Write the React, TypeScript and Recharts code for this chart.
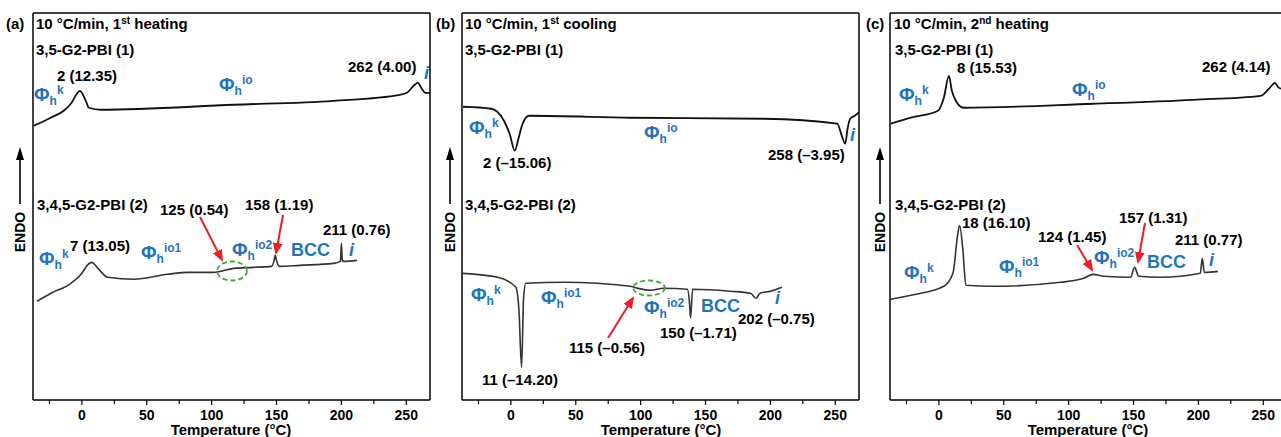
import React from "react";
import { LineChart, Line, XAxis, YAxis } from "recharts";

const FONT = '"Liberation Sans", Arial, Helvetica, sans-serif';
const BLUE = "#1F74BD";
const RED = "#EE1D23";
const GREEN = "#3BAA34";

const tempTicks = [-25, 0, 25, 50, 75, 100, 125, 150, 175, 200, 225, 250];
const tempDomain: [number, number] = [-37.7, 268.3];
const flowDomain: [number, number] = [0, 388];

// heat flow, arbitrary units (endo up)
const heat1Top_T = [-37, -24, -14, -8.5, -1.5, 3, 5.4, 14.6, 117, 194, 245, 250.5, 259, 262, 264.6, 268];
const heat1Top_Q = [275, 283, 290, 297, 310, 300, 293, 291, 296, 300, 306, 308, 318, 312, 308, 308];
const heat1Bot_T = [-34.6, -23.8, -8.5, 0, 4, 7.7, 12.3, 20, 40, 66, 81.5, 101.5, 117, 132, 146, 148, 149, 150, 152, 168, 194, 199.3, 200, 200.7, 202, 212];
const heat1Bot_Q = [99, 107, 117, 127, 135, 138, 132, 123, 121, 126, 128, 128, 132, 133, 134, 139, 145, 140, 134, 135, 137, 139, 157, 140, 139, 140];

const coolTop_T = [-37, -15, -5.4, -1, 3, 6, 9, 14, 92, 195, 251.5, 255, 257.7, 259.5, 261.5, 265, 269];
const coolTop_Q = [294, 292, 280, 267, 250, 263, 277, 285, 283, 282, 277, 265, 257, 272, 282, 285, 289];
const coolBot_T = [-37, -10, 3.8, 6.2, 8.2, 9.8, 11.5, 40.8, 92, 97.7, 107.7, 117.7, 136, 137.5, 138.5, 140, 169, 184.6, 189, 192, 200, 209];
const coolBot_Q = [127, 123, 113, 90, 33, 103, 117, 118, 114, 112, 110, 112, 111, 100, 82, 111, 109, 107, 102, 107, 109, 113];

const heat2Top_T = [-37, -21.5, -0.8, 3.8, 7.7, 10, 13, 19, 119, 196, 248, 255, 259, 262, 265, 268];
const heat2Top_Q = [277, 283, 290, 303, 325, 310, 300, 293, 297, 301, 305, 313, 318, 313, 312, 312];
const heat2Bot_T = [-37, -21.5, 3.8, 10.8, 14.6, 16, 18.5, 20.8, 42, 93.8, 111.5, 119, 127, 147.7, 150.8, 154, 171, 201.5, 203, 204.6, 215];
const heat2Bot_Q = [101, 105, 114, 127, 167, 175, 150, 115, 114, 118, 122, 126, 124, 123, 133, 124, 123, 127, 142, 128, 129];

const toRows = (t: number[], q: number[]) => t.map((v, i) => ({ t: v, q: q[i] }));

const axisStyle = { stroke: "#000", strokeWidth: 1.5 };

function TempTick(props: any) {
  const { x, y, payload } = props;
  const major = payload.value % 50 === 0;
  return (
    <g>
      <line x1={x} x2={x} y1={y} y2={y + (major ? 5 : 4)} stroke="#000" strokeWidth={1.2} />
      {major && (
        <text x={x} y={y + 20} textAnchor="middle" fontFamily={FONT} fontWeight="bold" fontSize={14} fill="#000">
          {payload.value}
        </text>
      )}
    </g>
  );
}

function Panel({ left, upper, lower }: { left: number; upper: any[]; lower: any[] }) {
  return (
    <div style={{ position: "absolute", left, top: 0 }}>
      <LineChart width={431} height={437} margin={{ top: 12, right: 0, bottom: 0, left: 32 }}>
        <XAxis
          xAxisId="b"
          type="number"
          dataKey="t"
          domain={tempDomain}
          allowDataOverflow
          ticks={tempTicks}
          interval={0}
          tickSize={0}
          tickMargin={0}
          tick={<TempTick />}
          height={37}
          stroke="#000"
          axisLine={axisStyle}
        />
        <XAxis xAxisId="top" orientation="top" type="number" dataKey="t" domain={tempDomain} allowDataOverflow tick={false} tickLine={false} height={1} stroke="#000" axisLine={axisStyle} />
        <YAxis yAxisId="l" type="number" domain={flowDomain} allowDataOverflow tick={false} tickLine={false} width={1} stroke="#000" axisLine={axisStyle} />
        <YAxis yAxisId="r" orientation="right" type="number" domain={flowDomain} allowDataOverflow tick={false} tickLine={false} width={1} stroke="#000" axisLine={axisStyle} />
        <Line xAxisId="b" yAxisId="l" data={upper} dataKey="q" type="monotone" stroke="#111" strokeWidth={1.8} dot={false} isAnimationActive={false} />
        <Line xAxisId="b" yAxisId="l" data={lower} dataKey="q" type="monotone" stroke="#333" strokeWidth={1.6} dot={false} isAnimationActive={false} />
      </LineChart>
    </div>
  );
}

const txt = { fontFamily: FONT, fontWeight: "bold" as const };

function T({ x, y, children }: { x: number; y: number; children: React.ReactNode }) {
  return (
    <text x={x} y={y} {...txt} fontSize={15} fill="#000">
      {children}
    </text>
  );
}

function Phi({ x, cy, sup }: { x: number; cy: number; sup: string }) {
  return (
    <text x={x} y={cy + 6} {...txt} fontSize={19} fill={BLUE}>
      Φ<tspan fontSize={12} dy={4}>h</tspan>
      <tspan fontSize={12} dy={-11}>{sup}</tspan>
    </text>
  );
}

function Blue({ x, y, children, italic }: { x: number; y: number; children: React.ReactNode; italic?: boolean }) {
  return (
    <text x={x} y={y} {...txt} fontSize={18} fontStyle={italic ? "italic" : "normal"} fill={BLUE}>
      {children}
    </text>
  );
}

function Arrow({ x1, y1, x2, y2 }: { x1: number; y1: number; x2: number; y2: number }) {
  return <line x1={x1} y1={y1} x2={x2} y2={y2} stroke={RED} strokeWidth={2} markerEnd="url(#redHead)" />;
}

function Oval({ cx, cy, rx, ry }: { cx: number; cy: number; rx: number; ry: number }) {
  return <ellipse cx={cx} cy={cy} rx={rx} ry={ry} fill="none" stroke={GREEN} strokeWidth={1.8} strokeDasharray="5 3" />;
}

function Endo({ x }: { x: number }) {
  return (
    <g>
      <line x1={x} y1={204} x2={x} y2={158} stroke="#000" strokeWidth={1.6} />
      <path d={`M${x - 4},160 L${x},147 L${x + 4},160 Z`} fill="#000" />
      <text transform={`translate(${x + 5},232) rotate(-90)`} textAnchor="middle" {...txt} fontSize={14} fill="#000">
        ENDO
      </text>
    </g>
  );
}

function Header({ x, tag, tx, ord, suf, rest }: { x: number; tag: string; tx: number; ord: string; suf: string; rest: string }) {
  return (
    <g>
      <T x={x} y={29}>{tag}</T>
      <text x={tx} y={29} {...txt} fontSize={15} fill="#000">
        10 °C/min, {ord}
        <tspan fontSize={10} dy={-5}>{suf}</tspan>
        <tspan dy={5}> {rest}</tspan>
      </text>
    </g>
  );
}

function Annotations() {
  return (
    <svg width={1281} height={437} style={{ position: "absolute", left: 0, top: 0, pointerEvents: "none" }}>
      <defs>
        <marker id="redHead" markerWidth={12} markerHeight={10} refX={10} refY={5} orient="auto" markerUnits="userSpaceOnUse">
          <path d="M0,0 L12,5 L0,10 Z" fill={RED} />
        </marker>
      </defs>

      {/* (a) */}
      <Header x={6} tag="(a)" tx={36} ord="1" suf="st" rest="heating" />
      <T x={36} y={55}>3,5-G2-PBI (1)</T>
      <T x={57} y={81}>2 (12.35)</T>
      <Phi x={34} cy={95} sup="k" />
      <Phi x={219} cy={85} sup="io" />
      <T x={348} y={72}>262 (4.00)</T>
      <Blue x={424} y={79} italic>i</Blue>
      <T x={37} y={210}>3,4,5-G2-PBI (2)</T>
      <T x={160} y={215}>125 (0.54)</T>
      <T x={245} y={210}>158 (1.19)</T>
      <T x={323} y={235}>211 (0.76)</T>
      <T x={70} y={251}>7 (13.05)</T>
      <Phi x={39} cy={259} sup="k" />
      <Phi x={141} cy={253} sup="io1" />
      <Phi x={232} cy={250} sup="io2" />
      <Blue x={291} y={256}>BCC</Blue>
      <Blue x={349} y={256} italic>i</Blue>
      <Arrow x1={200} y1={217} x2={222} y2={260} />
      <Arrow x1={283} y1={215} x2={276} y2={253} />
      <Oval cx={232} cy={271} rx={15} ry={9.5} />
      <Endo x={20} />

      {/* (b) */}
      <Header x={436} tag="(b)" tx={465} ord="1" suf="st" rest="cooling" />
      <T x={465} y={55}>3,5-G2-PBI (1)</T>
      <Phi x={469} cy={128} sup="k" />
      <T x={483} y={168}>2 (–15.06)</T>
      <Phi x={644} cy={133} sup="io" />
      <T x={768} y={160}>258 (–3.95)</T>
      <Blue x={850} y={141} italic>i</Blue>
      <T x={465} y={210}>3,4,5-G2-PBI (2)</T>
      <Phi x={471} cy={295} sup="k" />
      <Phi x={541} cy={298} sup="io1" />
      <T x={482} y={385}>11 (–14.20)</T>
      <T x={569} y={353}>115 (–0.56)</T>
      <Arrow x1={608} y1={338} x2={633} y2={298} />
      <Oval cx={649} cy={288} rx={16} ry={7.5} />
      <Phi x={644} cy={308} sup="io2" />
      <Blue x={701} y={312}>BCC</Blue>
      <T x={660} y={338}>150 (–1.71)</T>
      <T x={738} y={324}>202 (–0.75)</T>
      <Blue x={775} y={304} italic>i</Blue>
      <Endo x={450} />

      {/* (c) */}
      <Header x={866} tag="(c)" tx={894} ord="2" suf="nd" rest="heating" />
      <T x={895} y={55}>3,5-G2-PBI (1)</T>
      <T x={957} y={73}>8 (15.53)</T>
      <Phi x={899} cy={95} sup="k" />
      <Phi x={1072} cy={90} sup="io" />
      <T x={1202} y={72}>262 (4.14)</T>
      <T x={895} y={210}>3,4,5-G2-PBI (2)</T>
      <T x={962} y={228}>18 (16.10)</T>
      <T x={1038} y={242}>124 (1.45)</T>
      <T x={1119} y={223}>157 (1.31)</T>
      <T x={1175} y={245}>211 (0.77)</T>
      <Phi x={904} cy={273} sup="k" />
      <Phi x={999} cy={267} sup="io1" />
      <Phi x={1094} cy={258} sup="io2" />
      <Blue x={1147} y={268}>BCC</Blue>
      <Blue x={1209} y={266} italic>i</Blue>
      <Arrow x1={1077} y1={245} x2={1092} y2={270} />
      <Arrow x1={1145} y1={223} x2={1138} y2={262} />
      <Endo x={880} />

      {/* axis titles */}
      {[231, 661, 1088].map((cx) => (
        <text key={cx} x={cx} y={435} textAnchor="middle" {...txt} fontSize={15} fill="#000">
          Temperature (°C)
        </text>
      ))}
    </svg>
  );
}

export default function App() {
  return (
    <div style={{ position: "absolute", left: 0, top: 0, width: 1281, height: 437, overflow: "hidden", background: "#fff" }}>
      <Panel left={0} upper={toRows(heat1Top_T, heat1Top_Q)} lower={toRows(heat1Bot_T, heat1Bot_Q)} />
      <Panel left={429} upper={toRows(coolTop_T, coolTop_Q)} lower={toRows(coolBot_T, coolBot_Q)} />
      <Panel left={857} upper={toRows(heat2Top_T, heat2Top_Q)} lower={toRows(heat2Bot_T, heat2Bot_Q)} />
      <Annotations />
    </div>
  );
}
